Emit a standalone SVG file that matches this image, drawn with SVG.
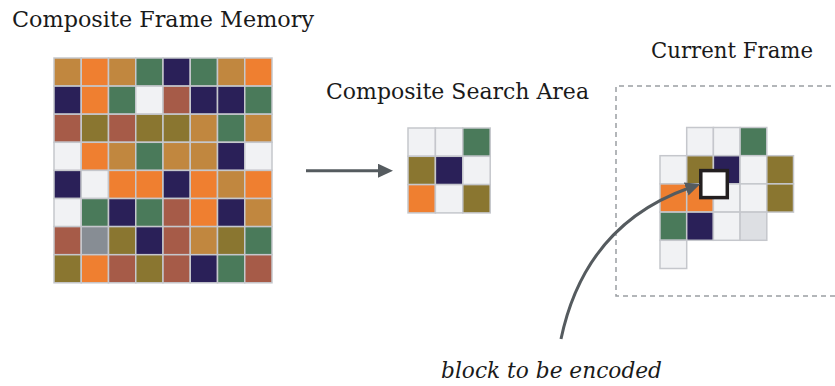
<svg xmlns="http://www.w3.org/2000/svg" width="835" height="386" viewBox="0 0 835 386">
<defs>
<style>
.t{font-family:"DejaVu Serif","Liberation Serif",serif;font-size:23px;fill:#1a1a1a}
.i{font-style:italic}
.c rect{stroke:#C5C7CC;stroke-width:1.5}
.tan{fill:#C1873F}.org{fill:#EF7F30}.grn{fill:#4A7A5A}.nav{fill:#2A2058}.lt{fill:#F1F2F4}.brn{fill:#A65B48}.olv{fill:#8A7630}.gry{fill:#878D94}.lg{fill:#DDDFE3}
.conn{fill:none;stroke:#555B5F;stroke-width:3}
</style>
<marker id="ah" markerUnits="userSpaceOnUse" markerWidth="15" markerHeight="14" viewBox="0 0 15 14" refX="3" refY="7" orient="auto">
<path d="M0,0 L15,7 L0,14 z" fill="#555B5F"/>
</marker>
</defs>
<rect width="835" height="386" fill="#fff"/>
<text class="t" x="12" y="27" textLength="302" lengthAdjust="spacingAndGlyphs">Composite Frame Memory</text>
<text class="t" x="326" y="99" textLength="263" lengthAdjust="spacingAndGlyphs">Composite Search Area</text>
<text class="t" x="651" y="58" textLength="162" lengthAdjust="spacingAndGlyphs">Current Frame</text>
<text class="t i" x="441" y="378" textLength="221" lengthAdjust="spacingAndGlyphs">block to be encoded</text>

<g id="frame-memory" class="c">
<rect class="tan" x="54" y="58" width="27.25" height="28.1"/><rect class="org" x="81.25" y="58" width="27.25" height="28.1"/><rect class="tan" x="108.5" y="58" width="27.25" height="28.1"/><rect class="grn" x="135.75" y="58" width="27.25" height="28.1"/><rect class="nav" x="163" y="58" width="27.25" height="28.1"/><rect class="grn" x="190.25" y="58" width="27.25" height="28.1"/><rect class="tan" x="217.5" y="58" width="27.25" height="28.1"/><rect class="org" x="244.75" y="58" width="27.25" height="28.1"/>
<rect class="nav" x="54" y="86.1" width="27.25" height="28.1"/><rect class="org" x="81.25" y="86.1" width="27.25" height="28.1"/><rect class="grn" x="108.5" y="86.1" width="27.25" height="28.1"/><rect class="lt" x="135.75" y="86.1" width="27.25" height="28.1"/><rect class="brn" x="163" y="86.1" width="27.25" height="28.1"/><rect class="nav" x="190.25" y="86.1" width="27.25" height="28.1"/><rect class="nav" x="217.5" y="86.1" width="27.25" height="28.1"/><rect class="grn" x="244.75" y="86.1" width="27.25" height="28.1"/>
<rect class="brn" x="54" y="114.2" width="27.25" height="28.1"/><rect class="olv" x="81.25" y="114.2" width="27.25" height="28.1"/><rect class="brn" x="108.5" y="114.2" width="27.25" height="28.1"/><rect class="olv" x="135.75" y="114.2" width="27.25" height="28.1"/><rect class="olv" x="163" y="114.2" width="27.25" height="28.1"/><rect class="tan" x="190.25" y="114.2" width="27.25" height="28.1"/><rect class="grn" x="217.5" y="114.2" width="27.25" height="28.1"/><rect class="tan" x="244.75" y="114.2" width="27.25" height="28.1"/>
<rect class="lt" x="54" y="142.3" width="27.25" height="28.1"/><rect class="org" x="81.25" y="142.3" width="27.25" height="28.1"/><rect class="tan" x="108.5" y="142.3" width="27.25" height="28.1"/><rect class="grn" x="135.75" y="142.3" width="27.25" height="28.1"/><rect class="tan" x="163" y="142.3" width="27.25" height="28.1"/><rect class="tan" x="190.25" y="142.3" width="27.25" height="28.1"/><rect class="nav" x="217.5" y="142.3" width="27.25" height="28.1"/><rect class="lt" x="244.75" y="142.3" width="27.25" height="28.1"/>
<rect class="nav" x="54" y="170.4" width="27.25" height="28.1"/><rect class="lt" x="81.25" y="170.4" width="27.25" height="28.1"/><rect class="org" x="108.5" y="170.4" width="27.25" height="28.1"/><rect class="org" x="135.75" y="170.4" width="27.25" height="28.1"/><rect class="nav" x="163" y="170.4" width="27.25" height="28.1"/><rect class="org" x="190.25" y="170.4" width="27.25" height="28.1"/><rect class="tan" x="217.5" y="170.4" width="27.25" height="28.1"/><rect class="org" x="244.75" y="170.4" width="27.25" height="28.1"/>
<rect class="lt" x="54" y="198.5" width="27.25" height="28.1"/><rect class="grn" x="81.25" y="198.5" width="27.25" height="28.1"/><rect class="nav" x="108.5" y="198.5" width="27.25" height="28.1"/><rect class="grn" x="135.75" y="198.5" width="27.25" height="28.1"/><rect class="brn" x="163" y="198.5" width="27.25" height="28.1"/><rect class="org" x="190.25" y="198.5" width="27.25" height="28.1"/><rect class="nav" x="217.5" y="198.5" width="27.25" height="28.1"/><rect class="tan" x="244.75" y="198.5" width="27.25" height="28.1"/>
<rect class="brn" x="54" y="226.6" width="27.25" height="28.1"/><rect class="gry" x="81.25" y="226.6" width="27.25" height="28.1"/><rect class="olv" x="108.5" y="226.6" width="27.25" height="28.1"/><rect class="nav" x="135.75" y="226.6" width="27.25" height="28.1"/><rect class="brn" x="163" y="226.6" width="27.25" height="28.1"/><rect class="tan" x="190.25" y="226.6" width="27.25" height="28.1"/><rect class="olv" x="217.5" y="226.6" width="27.25" height="28.1"/><rect class="grn" x="244.75" y="226.6" width="27.25" height="28.1"/>
<rect class="olv" x="54" y="254.7" width="27.25" height="28.1"/><rect class="org" x="81.25" y="254.7" width="27.25" height="28.1"/><rect class="brn" x="108.5" y="254.7" width="27.25" height="28.1"/><rect class="olv" x="135.75" y="254.7" width="27.25" height="28.1"/><rect class="brn" x="163" y="254.7" width="27.25" height="28.1"/><rect class="nav" x="190.25" y="254.7" width="27.25" height="28.1"/><rect class="grn" x="217.5" y="254.7" width="27.25" height="28.1"/><rect class="brn" x="244.75" y="254.7" width="27.25" height="28.1"/>
</g>

<g id="search-area" class="c">
<rect class="lt" x="408" y="128" width="27.4" height="28.3"/><rect class="lt" x="435.4" y="128" width="27.4" height="28.3"/><rect class="grn" x="462.8" y="128" width="27.4" height="28.3"/>
<rect class="olv" x="408" y="156.3" width="27.4" height="28.3"/><rect class="nav" x="435.4" y="156.3" width="27.4" height="28.3"/><rect class="lt" x="462.8" y="156.3" width="27.4" height="28.3"/>
<rect class="org" x="408" y="184.6" width="27.4" height="28.3"/><rect class="lt" x="435.4" y="184.6" width="27.4" height="28.3"/><rect class="olv" x="462.8" y="184.6" width="27.4" height="28.3"/>
</g>

<g id="current-frame">
<path d="M840,86 H616 V296 H840" fill="none" stroke="#9A9EA3" stroke-width="1.5" stroke-dasharray="5 4"/>
<g class="c">
<rect class="lt" x="686.7" y="127.5" width="26.7" height="28.2"/><rect class="lt" x="713.4" y="127.5" width="26.7" height="28.2"/><rect class="grn" x="740.1" y="127.5" width="26.7" height="28.2"/>
<rect class="lt" x="660" y="155.7" width="26.7" height="28.2"/><rect class="olv" x="686.7" y="155.7" width="26.7" height="28.2"/><rect class="nav" x="713.4" y="155.7" width="26.7" height="28.2"/><rect class="lt" x="740.1" y="155.7" width="26.7" height="28.2"/><rect class="olv" x="766.8" y="155.7" width="26.7" height="28.2"/>
<rect class="org" x="660" y="183.9" width="26.7" height="28.2"/><rect class="org" x="686.7" y="183.9" width="26.7" height="28.2"/><rect class="lt" x="713.4" y="183.9" width="26.7" height="28.2"/><rect class="lt" x="740.1" y="183.9" width="26.7" height="28.2"/><rect class="olv" x="766.8" y="183.9" width="26.7" height="28.2"/>
<rect class="grn" x="660" y="212.1" width="26.7" height="28.2"/><rect class="nav" x="686.7" y="212.1" width="26.7" height="28.2"/><rect class="lt" x="713.4" y="212.1" width="26.7" height="28.2"/><rect class="lg" x="740.1" y="212.1" width="26.7" height="28.2"/>
<rect class="lt" x="660" y="240.3" width="26.7" height="28.2"/>
</g>
<rect id="target-block" x="700.8" y="170.6" width="26.5" height="27" fill="#fff" stroke="#231F20" stroke-width="3.5"/>
</g>

<g id="connectors">
<path class="conn" d="M306,170.7 H381" marker-end="url(#ah)"/>
<path class="conn" d="M561,339 Q585,225 689,188" marker-end="url(#ah)"/>
</g>
</svg>
